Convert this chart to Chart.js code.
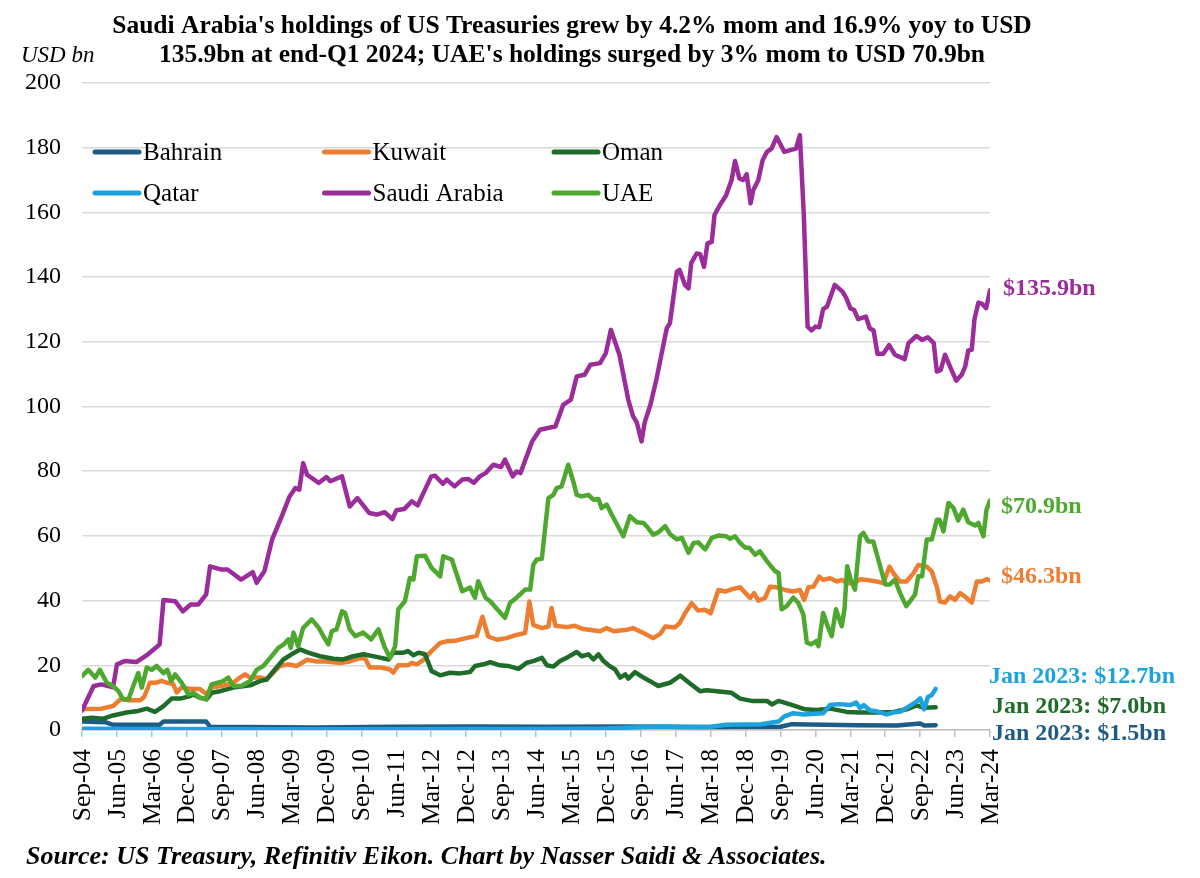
<!DOCTYPE html>
<html>
<head>
<meta charset="utf-8">
<script src="https://cdn.jsdelivr.net/npm/chart.js@4.4.1/dist/chart.umd.min.js"></script>
<style>
  html, body { margin: 0; padding: 0; background: #fff; }
  #chart { display: block; }
</style>
</head>
<body>
<canvas id="chart" width="1200" height="878"></canvas>
<script>
// x = months since Sep-04, y = USD bn
const tickLabels = ["Sep-04","Jun-05","Mar-06","Dec-06","Sep-07","Jun-08","Mar-09","Dec-09","Sep-10",
  "Jun-11","Mar-12","Dec-12","Sep-13","Jun-14","Mar-15","Dec-15","Sep-16","Jun-17","Mar-18",
  "Dec-18","Sep-19","Jun-20","Mar-21","Dec-21","Sep-22","Jun-23","Mar-24"];

const countries = ["Bahrain", "Kuwait", "Oman", "Qatar", "Saudi Arabia", "UAE"];
const colors = ["#1F5C85", "#ED7D31", "#1E6B2A", "#1CA3DE", "#9B2D9B", "#4EA72E"];

const bahrain = [[0,2.6],[6,2.4],[8,1.6],[20,1.6],[21,2.6],[32,2.6],[33,1.0],[60,0.8],[80,1.0],[100,1.1],
  [120,1.0],[140,1.1],[160,0.9],[180,1.0],[183,1.8],[200,1.5],[210,1.4],[216,2.0],[217,1.4],[220,1.5]];

const kuwait = [[0,6.5],[5,6.6],[8,7.4],[10,9.6],[12,9.2],[15,9.2],[16,10.2],[17.5,14.6],[19,14.6],[20.5,15.2],
  [22,14.6],[23.5,14.2],[24.4,11.6],[25.7,13.2],[28,12.7],[30.4,12.7],[32,11.1],[33.5,13.2],[36.4,13.7],
  [39,14.6],[40.7,16.2],[42,17.2],[43.3,16.2],[46,16.2],[47.6,15.7],[49.3,17.7],[51,19.8],[53,20.3],[55.3,19.8],
  [58,21.7],[60.5,21.2],[63,21.2],[66.5,20.7],[69,21.2],[71.6,22.2],[72.9,22.2],[74.2,19.3],[77,19.3],
  [79.4,18.7],[80.2,17.7],[81.5,20],[84,20],[85,20.7],[86.3,20.3],[88,21.7],[90,24.3],[92.3,26.9],[94,27.4],
  [96.6,27.7],[99,28.4],[101.7,29.1],[103.2,35],[104.7,28.9],[107,27.9],[109.4,28.4],[112,29.4],[114.2,30],
  [115.3,39.7],[116.3,32.5],[118.5,31.5],[120.2,32],[121,37.7],[122,32.2],[125,31.8],[127,32.2],[129.2,31.2],
  [133.5,30.5],[135.2,31.5],[137,30.5],[140.4,31],[142,31.5],[144.7,30],[147.2,28.4],[149,29.7],[150.3,32],
  [152.8,31.7],[154,33],[155.4,36.1],[157.1,39.2],[158.8,36.9],[160.5,37.2],[162,36.1],[164,43.3],[165.7,42.8],
  [167.4,43.5],[169.6,44.1],[171,42.3],[172.2,40.8],[173.2,42.3],[174.3,40],[176,40.8],[177.3,44.3],[179,44.1],
  [181.2,43.3],[183.3,42.8],[185,43.3],[186.1,40.2],[187.2,44.1],[188.5,44.3],[190,47.4],[191,46.4],
  [192.8,46.9],[194.5,45.9],[195.8,46.4],[197.1,45.4],[199,45.4],[200.5,46.6],[202.2,46.4],[204.8,45.9],
  [206.5,45.4],[208.1,50.5],[209.1,48.5],[210.8,45.9],[212.5,45.9],[214.3,48.5],[215.5,51],[217.7,50.5],
  [219,49],[220.3,44.3],[221.1,39.7],[222.4,39.4],[223.7,41.3],[225,40.2],[226.3,42.3],[227.5,41.3],
  [229.3,39.4],[230.6,45.9],[231.9,45.9],[233.1,46.6],[234,46.3]];

const oman = [[0,3.5],[2.6,3.8],[5.5,3.5],[8,4.5],[11.5,5.4],[14.5,5.9],[16.7,6.6],[18.8,5.6],[21,7.4],
  [23.1,9.7],[25.3,9.7],[27.4,10.3],[28.7,11],[30.4,10],[32.1,9.5],[33.4,11.5],[35.6,12],[39,13.1],[43.3,13.8],
  [45.9,15.1],[47.6,15.6],[49.7,18.7],[51.9,21.8],[54,23.4],[56.2,24.9],[58.3,23.9],[61.3,22.8],[64.8,22],
  [67.3,21.8],[69.9,22.8],[72.5,23.4],[75.9,22.6],[79,21.8],[80.2,23.9],[82.8,23.9],[84,24.4],[85.4,23.1],
  [86.7,23.9],[88.4,23.4],[90.1,18.2],[92.3,16.9],[94.8,17.7],[97.4,17.5],[100,17.9],[101.3,19.8],[103.5,20.3],
  [105.2,21],[107.7,20],[109.8,19.8],[112.5,18.9],[114.6,20.8],[116.3,21.3],[118.5,22.3],[119.8,20],[121.5,19.6],
  [123.2,21.3],[125.3,22.6],[127.5,24.1],[128.8,22.8],[130.5,23.4],[131.8,21.8],[133.1,23.4],[134.4,21.3],
  [135.7,20],[137.4,18.7],[138.7,16.2],[140,17.2],[140.8,15.9],[142.5,17.9],[144.7,16.2],[146.4,15.1],
  [148.5,13.6],[151.5,14.6],[154.2,16.8],[156.7,14.4],[159.3,12],[161,12.3],[163.6,12],[167.4,11.5],
  [169.6,9.7],[172.6,9],[176.5,9],[177.8,7.9],[179.5,9],[183.3,7.6],[186.3,6.4],[189.3,6.2],[192.8,6.6],
  [197.1,5.6],[200.5,5.4],[204.8,5.4],[209.1,5.6],[212.5,6.4],[215.1,7.6],[216.8,6.9],[220,7.0]];

const qatar = [[0,0.4],[20,0.3],[40,0.2],[60,0.2],[80,0.2],[100,0.3],[120,0.3],[135,0.5],[145,0.9],[150,1.1],
  [155,0.9],[162,1.0],[166,1.6],[175,1.8],[179.5,2.6],[181,4.2],[183.3,5.2],[186,4.8],[191,5.2],[192.8,7.7],
  [195,8],[198,7.7],[199.5,8.5],[200.5,6.8],[201.5,7.7],[203,6.1],[205,5.7],[207.4,4.8],[209,5.4],[211,5.7],
  [213,7.2],[215,8.7],[216,9.8],[217,6.4],[218,10.2],[219,10.8],[220,12.7]];

const saudi = [[0,6],[3,13.6],[5,14.1],[8,13.2],[9,20.3],[11,21.3],[14,21],[17,23.4],[20,26.4],[21,40.2],
  [24,39.8],[26,36.7],[28,38.8],[30,38.8],[32,41.9],[33,50.6],[36,49.6],[37.5,49.6],[41,46.5],[44,48.8],
  [45,45.5],[47,49.1],[49,58.9],[51.5,66.1],[53.5,72.2],[55,74.8],[56,74.3],[57,82.5],[58,78.9],[61,76.4],
  [63,78.2],[64,76.9],[67,78.4],[69,69.1],[71,71.7],[74,67.1],[76,66.6],[78,67.3],[80,65.2],[81,67.9],
  [83,68.3],[85,70.7],[86.5,69.4],[88,73.3],[90,78.4],[91,78.6],[93,76.1],[94,77.4],[96,75.3],[98,77.4],
  [99.5,77.6],[101,76.4],[102.5,78.4],[104,79.4],[106,82],[108,81.3],[109,83.6],[111,78.4],[112,79.9],
  [113,79.4],[116,89.2],[118,92.8],[121,93.6],[122,93.8],[124,100.5],[126,102.1],[127.5,109.3],[129.5,109.8],
  [131,112.9],[133.5,113.4],[135,116.5],[136.3,123.7],[138.5,116],[140.8,102],[142,97],[143,95],[144.2,89.2],
  [145,95],[146.5,100.6],[148,108.2],[149.4,116.5],[150.7,124.2],[151.5,125.7],[153.3,141.7],[154,142.2],
  [155.4,137.6],[156.3,136.5],[157,144.3],[158.4,147.3],[159.3,147.1],[160.3,143.2],[161.2,150.4],
  [162.3,150.9],[163,159.2],[164.4,162.3],[166,165.3],[167.4,170],[168.3,175.9],[169.4,170.5],[170.4,170],
  [171.3,171.8],[172.3,162.8],[173,166.9],[174.3,170],[175.4,176.1],[176.5,178.7],[177.7,179.7],[179,183.3],
  [181,178.7],[183,179.4],[184,179.7],[185,183.9],[186,159.6],[187,124.7],[188,123.5],[189,124.7],[190,124.5],
  [191,130.1],[192,130.9],[194,137.6],[196,135.5],[197,133.4],[198,130.4],[199,129.8],[200,127],[202,127.8],
  [203,124.2],[204,123.5],[205,116.3],[206.5,116.3],[208,119],[209.5,116],[211,115.2],[212,114.6],[213,119.6],
  [215,121.8],[216.5,120.6],[218,121.4],[219.5,119.6],[220.3,110.8],[221.3,111.3],[222.4,116],[223.7,112.3],
  [225.3,108],[226.7,109.8],[227.6,112.3],[228.4,117.3],[229.3,117.5],[230,127],[231,132.1],[232,131.7],
  [233,130.4],[234,135.9]];

const uae = [[0,16.6],[1.6,18.6],[3.4,16.2],[4.6,18.6],[6.4,14.6],[8,13.6],[9.4,12],[10.6,9.5],[12,9.5],
  [13.2,13.6],[14.5,17.6],[15.4,13.1],[16.7,19.3],[18,18.6],[19.2,19.8],[21,17.6],[22,18.6],[23,15.1],[24,17.2],
  [25.7,14.6],[27.4,11],[28.7,11.5],[30.4,10],[32,9.5],[33.4,14.1],[36.4,15.1],[37.7,16.2],[39,13.6],[41,13.6],
  [43.3,15.1],[45,18.6],[46.7,19.8],[48.5,22.3],[50.6,25.4],[52,26.5],[53.2,28],[53.8,25.4],[54.5,30.1],
  [55.7,25.9],[57,31.6],[59.2,34.2],[61,31.6],[62.2,29],[63.5,26.5],[64.4,30.6],[65.6,31.1],[67,36.7],
  [67.8,36.2],[69,31.1],[70.4,29],[72.5,30.1],[74.5,28],[76.4,31.1],[78,25.6],[79.4,22.3],[80.7,25.9],
  [81.5,37.3],[83.2,39.8],[84.5,47],[85.4,46.5],[86.3,53.7],[88.4,53.9],[90.1,50.1],[92.3,47.5],[93.1,53.7],
  [95.3,52.7],[97,46.5],[98,42.9],[100,44],[101.3,40.9],[102.1,46],[104,40.9],[105.2,39.8],[107,37.3],
  [109,34.7],[110.3,39.3],[112,40.9],[114.2,43.4],[115.5,43.4],[116.3,51.1],[117.2,52.7],[118.5,52.9],
  [120.2,71.7],[121.5,72.7],[122.3,74.8],[123.6,75.3],[125.3,82],[126.6,76.9],[127.5,72.7],[128.8,72.2],
  [130.5,72.7],[131.8,71.2],[133.1,71.4],[133.9,68.6],[135.2,69.7],[136.5,66.6],[139.5,59.9],[141.2,66.1],
  [143,64.2],[144.7,64],[145.5,63],[147.2,60.4],[148.5,61.1],[150.3,63],[151.5,60.6],[153.3,58.9],[154.6,59.4],
  [156.3,54.8],[157.6,57.8],[158.8,58],[160.6,55.8],[162.3,59.4],[164,60.1],[166,59.9],[167,59.1],[168.3,59.9],
  [169.6,57.8],[171,56.3],[172,56.3],[173.5,54.2],[174.7,55.2],[176.5,52.2],[178.6,49.1],[179.5,48.6],
  [180.3,37.3],[181.6,38.3],[183.3,40.9],[184.6,39.3],[185.9,35.7],[186.8,27],[188,26.5],[189.2,27.5],
  [189.8,25.9],[191,36.2],[192,32.6],[193.2,29],[194.3,37.3],[195.8,32.1],[196.5,37.3],[197.2,50.6],
  [198.1,46.5],[199.2,43.4],[200.5,59.9],[201.4,60.9],[202.6,58.3],[203.9,58.3],[205.7,50.6],[207,45],
  [208.2,45],[209.5,46.5],[210.8,42.4],[212.4,38.3],[213.4,39.8],[214.7,41.9],[215.5,47.5],[216.5,47.5],
  [217.7,58.9],[219,58.9],[220.3,65],[221,65],[222,61.4],[223.3,70.2],[224.6,68.6],[225.8,64.8],[227.1,68.1],
  [228.4,64.2],[230.2,63.2],[231,64],[232.3,59.9],[233.1,68.1],[234,70.9]];

const series = [bahrain, kuwait, oman, qatar, saudi, uae];

const endLabels = [
  { text: "$135.9bn", color: colors[4], x: 1003, y: 289 },
  { text: "$70.9bn", color: colors[5], x: 1001, y: 507 },
  { text: "$46.3bn", color: colors[1], x: 1001, y: 577 },
  { text: "Jan 2023: $12.7bn", color: colors[3], x: 989, y: 677 },
  { text: "Jan 2023: $7.0bn", color: colors[2], x: 992, y: 707 },
  { text: "Jan 2023: $1.5bn", color: colors[0], x: 992, y: 734 }
];

const SERIF = "'Liberation Serif', 'Times New Roman', serif";

const textPlugin = {
  id: "texts",
  afterDraw(chart) {
    const c = chart.ctx;
    c.save();
    c.textBaseline = "middle";
    c.fillStyle = "#000";
    c.font = "bold 25.5px " + SERIF;
    c.textAlign = "center";
    c.fillText("Saudi Arabia's holdings of US Treasuries grew by 4.2% mom and 16.9% yoy to USD", 572, 26);
    c.fillText("135.9bn at end-Q1 2024; UAE's holdings surged by 3% mom to USD 70.9bn", 572, 55);

    c.textAlign = "left";
    c.font = "italic 23px " + SERIF;
    c.fillText("USD bn", 21, 56);

    c.font = "bold italic 26px " + SERIF;
    c.fillText("Source: US Treasury, Refinitiv Eikon. Chart by Nasser Saidi & Associates.", 26, 857);

    // legend, 3 columns x 2 rows
    c.font = "25px " + SERIF;
    c.lineCap = "round";
    c.lineWidth = 5;
    chart.data.datasets.forEach((ds, i) => {
      const col = i % 3, row = Math.floor(i / 3);
      const x = 95 + col * 229.5, y = 152 + row * 41;
      c.strokeStyle = ds.borderColor;
      c.beginPath();
      c.moveTo(x, y);
      c.lineTo(x + 44, y);
      c.stroke();
      c.fillStyle = "#000";
      c.fillText(ds.label, x + 48, y + 1);
    });

    c.font = "bold 24px " + SERIF;
    endLabels.forEach(l => {
      c.fillStyle = l.color;
      c.fillText(l.text, l.x, l.y);
    });
    c.restore();
  }
};

new Chart(document.getElementById("chart"), {
  type: "line",
  data: {
    datasets: countries.map((name, i) => ({
      label: name,
      data: series[i].map(p => ({ x: p[0], y: p[1] })),
      borderColor: colors[i],
      backgroundColor: colors[i],
      borderWidth: 4.5,
      pointRadius: 0,
      tension: 0,
      borderJoinStyle: "round",
      borderCapStyle: "round",
      order: countries.length - i
    }))
  },
  options: {
    responsive: false,
    animation: false,
    devicePixelRatio: 1,
    layout: { padding: { top: 83, right: 210, bottom: 0, left: 0 } },
    plugins: {
      legend: { display: false },
      title: { display: false },
      tooltip: { enabled: false }
    },
    scales: {
      x: {
        type: "linear",
        min: 0,
        max: 234,
        afterFit: s => { s.height = 148; },
        afterBuildTicks: s => { s.ticks = tickLabels.map((t, i) => ({ value: i * 9 })); },
        ticks: {
          autoSkip: false,
          maxRotation: 90,
          minRotation: 90,
          padding: 12,
          labelOffset: 1,
          color: "#000",
          font: { family: SERIF, size: 25.5 },
          callback: v => tickLabels[Math.round(v / 9)]
        },
        grid: { drawOnChartArea: false, drawTicks: true, tickLength: 7, color: "#BFBFBF", lineWidth: 1.5 },
        border: { display: true, color: "#BFBFBF", width: 1.5 }
      },
      y: {
        min: 0,
        max: 200,
        afterFit: s => { s.width = 82; },
        ticks: {
          stepSize: 20,
          padding: 21,
          color: "#000",
          font: { family: SERIF, size: 24 }
        },
        grid: { color: "#D9D9D9", lineWidth: 1.5, drawTicks: false },
        border: { display: false }
      }
    }
  },
  plugins: [textPlugin]
});
</script>
</body>
</html>
